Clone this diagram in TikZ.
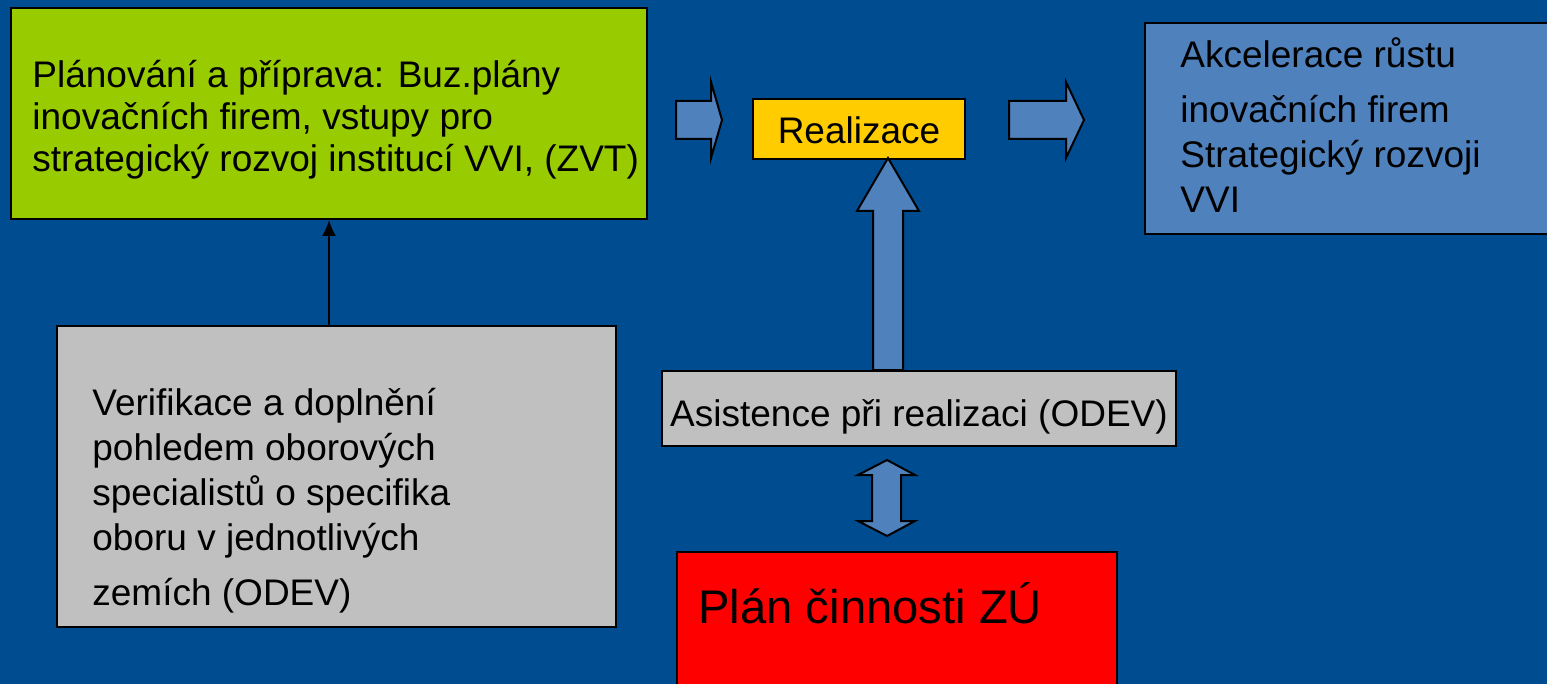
\documentclass[tikz,border=0pt]{standalone}
\usepackage{fontspec}
\setmainfont{Liberation Sans}
\usetikzlibrary{arrows.meta,calc}
\definecolor{SlideBlue}{RGB}{0,76,145}
\definecolor{PlanGreen}{RGB}{153,204,0}
\definecolor{RealYellow}{RGB}{255,204,0}
\definecolor{ArrowBlue}{RGB}{79,129,189}
\definecolor{BoxGray}{RGB}{192,192,192}
\definecolor{ZuRed}{RGB}{255,0,0}

\begin{document}
\begin{tikzpicture}[x=0.5pt,y=-0.5pt,
  box/.style={draw=black,line width=1pt,inner sep=0pt,anchor=north west},
  txt/.style={align=left,inner sep=0pt,anchor=base west,
              font=\fontsize{18.5}{21}\selectfont},
  blockarrow/.style={draw=black,line width=1pt,fill=ArrowBlue,line join=miter},
]
\useasboundingbox (0,0) rectangle (1547,684);
\clip (0,0) rectangle (1547,684);
\fill[SlideBlue] (0,0) rectangle (1547,684);

% boxes
\node[box,fill=PlanGreen,minimum width=318pt,minimum height=105.5pt] (plan) at (10,7) {};
\node[box,fill=RealYellow,minimum width=106pt,minimum height=30pt,
      font=\fontsize{18.5}{21}\selectfont,text height=17pt,text depth=2pt] (real) at (752,98) {Realizace};
\node[box,fill=ArrowBlue,minimum width=212pt,minimum height=105.5pt] (result) at (1144,22) {};
\node[box,fill=BoxGray,minimum width=279.5pt,minimum height=150.5pt] (verif) at (56,325) {};
\node[box,fill=BoxGray,minimum width=257pt,minimum height=37.5pt,
      font=\fontsize{18.5}{21}\selectfont,text height=20pt,text depth=2.5pt] (asist) at (661,370) {Asistence při realizaci (ODEV)};
\node[box,fill=ZuRed,minimum width=220pt,minimum height=80pt] (zu) at (676,551) {};

% texts (anchored at the baseline of the last line)
\node[txt] (plan-t) at (32,172) {Plánování a příprava: Buz.plány\\inovačních firem, vstupy pro\\strategický rozvoj institucí VVI, (ZVT)};
\node[txt,font=\fontsize{18.5}{22.5}\selectfont] (verif-t) at (92,605) {Verifikace a doplnění\\pohledem oborových\\specialistů o specifika\\oboru v jednotlivých\\[5pt]zemích (ODEV)};
\node[txt,font=\fontsize{18.5}{22.5}\selectfont] (result-t) at (1180,213) {Akcelerace růstu\\[5pt]inovačních firem\\Strategický rozvoji\\VVI};
\node[txt,font=\fontsize{23.6}{28}\selectfont] (zu-t) at (698,623) {Plán činnosti ZÚ};

% block arrows
\draw[blockarrow] (676,101) -- (711,101) -- (711,82) -- (722,120) -- (711,158) -- (711,139) -- (676,139) -- cycle;
\draw[blockarrow] (1009,101) -- (1066,101) -- (1066,82) -- (1084,120) -- (1066,158) -- (1066,139) -- (1009,139) -- cycle;
\draw[blockarrow] (873,370) -- (873,211) -- (857,211) -- (888,158) -- (919,211) -- (903,211) -- (903,370) -- cycle;
\draw[blockarrow] (887,460) -- (915,475) -- (901,475) -- (901,521) -- (915,521) -- (887,536)
  -- (858,521) -- (872,521) -- (872,475) -- (858,475) -- cycle;

\draw[-{Latex[length=8pt,width=7pt]},line width=1pt] (verif.north -| plan.south) -- (plan.south);
\end{tikzpicture}
\end{document}
